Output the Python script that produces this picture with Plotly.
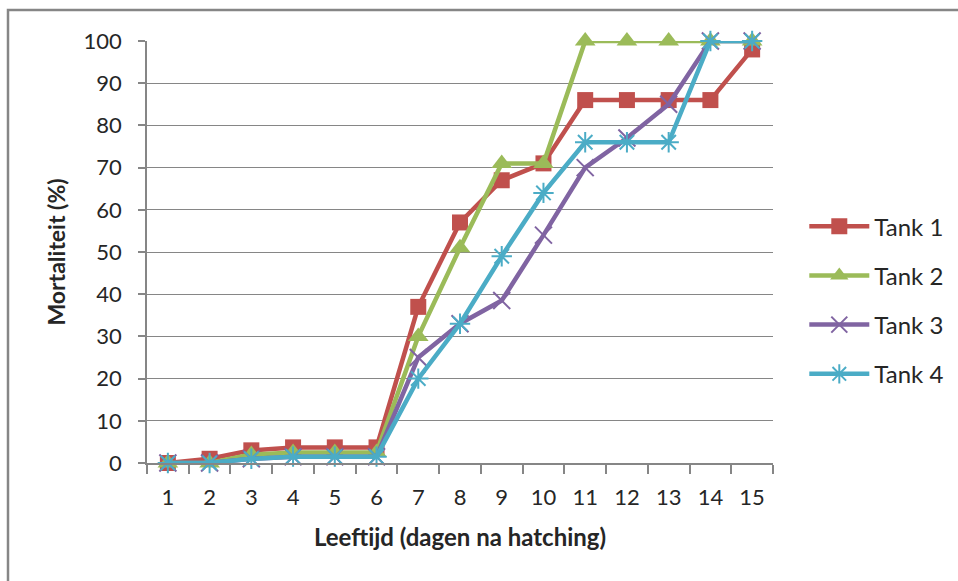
import plotly.graph_objects as go

days = list(range(1, 16))
day_labels = [str(d) for d in days]
tank1 = [0, 1, 3, 3.7, 3.7, 3.7, 37, 57, 67, 71, 86, 86, 86, 86, 98]
tank2 = [0, 0, 2, 2.5, 2.5, 2.5, 30, 51, 71, 71, 100, 100, 100, 100, 100]
tank3 = [0, 0, 1, 1.5, 1.5, 1.5, 25, 33, 38.5, 54, 70, 77, 85, 100, 100]
tank4 = [0, 0, 1, 1.5, 1.5, 1.5, 20, 33, 49, 64, 76, 76, 76, 100, 100]
series_names = ["Tank 1", "Tank 2", "Tank 3", "Tank 4"]

FONT = "Lato"
GRAY = "#868686"

styles = [
    dict(color="#C0504D", symbol="square", size=16, mline=0),
    dict(color="#9BBB59", symbol="triangle-up", size=18, mline=0),
    dict(color="#8064A2", symbol="x-thin-open", size=17, mline=2),
    dict(color="#4BACC6", symbol="asterisk-open", size=17, mline=2),
]

fig = go.Figure()
for name, vals, st in zip(series_names, [tank1, tank2, tank3, tank4], styles):
    fig.add_trace(go.Scatter(
        x=days, y=vals, name=name, legendgroup=name, mode="lines+markers",
        line=dict(color=st["color"], width=4.5),
        marker=dict(symbol=st["symbol"], size=st["size"], color=st["color"],
                    line=dict(color=st["color"], width=st["mline"])),
        cliponaxis=False,
    ))

fig.update_layout(
    width=958, height=581,
    margin=dict(l=147, r=185, t=41, b=118, autoexpand=False),
    paper_bgcolor="white", plot_bgcolor="white",
    font=dict(family=FONT, size=22, color="#262626"),
    showlegend=True,
    legend=dict(x=1.05, y=0.386, yanchor="middle", xanchor="left",
                font=dict(family=FONT, size=24, color="#262626"),
                tracegroupgap=15, itemwidth=60),
    xaxis=dict(
        range=[0.5, 15.5], tickvals=days, ticktext=day_labels, ticks="",
        showgrid=False, zeroline=False,
        showline=True, linecolor=GRAY, linewidth=1.5,
        tickfont=dict(size=22), ticklabelstandoff=14,
        minor=dict(tick0=0.5, dtick=1, ticks="outside", ticklen=9,
                   tickcolor=GRAY, tickwidth=1.5, showgrid=False),
        title=dict(text="<b>Leeftijd (dagen na hatching)</b>",
                   font=dict(size=24), standoff=20),
    ),
    yaxis=dict(
        range=[0, 100], tickvals=list(range(0, 101, 10)),
        ticks="outside", ticklen=7, tickcolor=GRAY, tickwidth=1.5,
        showgrid=True, gridcolor=GRAY, gridwidth=1.2,
        zeroline=False, showline=True, linecolor=GRAY, linewidth=1.5,
        tickfont=dict(size=22), ticklabelstandoff=12,
        title=dict(text="<b>Mortaliteit (%)</b>", font=dict(size=23), standoff=12),
    ),
    shapes=[dict(type="rect", xref="paper", yref="paper",
                 x0=(8 - 147) / 626, x1=1.5, y0=-0.5, y1=1 + (41 - 10) / 422,
                 line=dict(color=GRAY, width=2.5), fillcolor="rgba(0,0,0,0)",
                 layer="below")],
)

fig.write_html("out.html", config={"displayModeBar": False},
               post_script="document.body.style.margin='0';document.body.style.overflow='hidden';")
